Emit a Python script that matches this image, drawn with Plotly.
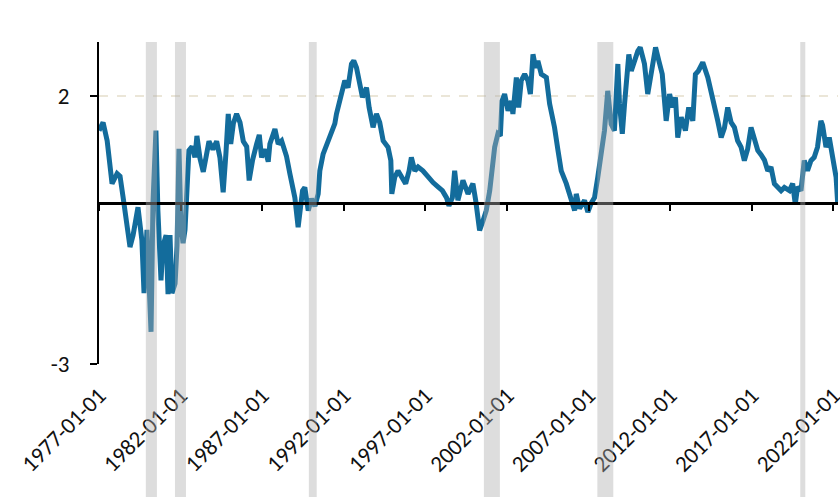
import plotly.graph_objects as go
import pandas as pd

# decimal-year positions and spread values
years = [1977.00,1977.25,1977.50,1977.68,1977.80,1978.11,1978.29,1978.48,1978.72,1978.90,
         1979.09,1979.39,1979.63,1979.76,1979.94,1980.07,1980.19,1980.31,1980.49,1980.61,
         1980.80,1980.92,1981.11,1981.23,1981.35,1981.47,1981.66,1981.78,1981.90,1982.02,
         1982.15,1982.27,1982.39,1982.51,1982.70,1982.88,1983.00,1983.19,1983.39,1983.62,
         1983.74,1983.98,1984.21,1984.41,1984.61,1984.78,1984.92,1985.07,1985.23,1985.43,
         1985.64,1985.84,1986.05,1986.20,1986.41,1986.66,1986.82,1986.96,1987.17,1987.37,
         1987.47,1987.78,1987.98,1988.19,1988.49,1988.70,1989.00,1989.20,1989.47,1989.61,
         1989.82,1990.02,1990.23,1990.43,1990.53,1990.73,1991.04,1991.25,1991.45,1991.55,
         1991.76,1991.86,1992.06,1992.26,1992.47,1992.61,1992.78,1992.94,1993.14,1993.39,
         1993.55,1993.79,1994.00,1994.20,1994.41,1994.71,1994.88,1994.94,1995.12,1995.32,
         1995.53,1995.79,1996.00,1996.14,1996.35,1996.55,1996.85,1997.16,1997.47,1997.77,
         1998.04,1998.29,1998.44,1998.65,1998.79,1998.99,1999.30,1999.61,1999.91,2000.08,
         2000.22,2000.32,2000.53,2000.73,2000.94,2001.10,2001.24,2001.44,2001.59,2001.69,
         2001.85,2002.06,2002.26,2002.36,2002.57,2002.71,2002.87,2003.08,2003.28,2003.43,
         2003.59,2003.75,2003.89,2004.10,2004.41,2004.61,2004.91,2005.12,2005.32,2005.63,
         2005.87,2006.03,2006.14,2006.24,2006.44,2006.75,2006.95,2007.16,2007.36,2007.56,
         2007.77,2007.97,2008.17,2008.38,2008.58,2008.79,2008.89,2009.06,2009.20,2009.34,
         2009.46,2009.61,2009.81,2010.01,2010.16,2010.42,2010.62,2010.83,2011.10,2011.30,
         2011.51,2011.75,2011.96,2012.16,2012.32,2012.46,2012.67,2012.93,2013.13,2013.38,
         2013.54,2013.72,2013.99,2014.30,2014.50,2014.71,2014.91,2015.12,2015.32,2015.52,
         2015.73,2015.93,2016.13,2016.34,2016.54,2016.74,2016.95,2017.15,2017.36,2017.56,
         2017.77,2017.97,2018.17,2018.38,2018.58,2018.79,2018.99,2019.30,2019.50,2019.66,
         2019.80,2020.01,2020.21,2020.41,2020.62,2020.82,2021.02,2021.23,2021.33,2021.54,
         2021.74,2021.95,2022.16,2022.26]
spread = [1.35,1.50,1.16,0.73,0.36,0.55,0.50,0.10,-0.38,-0.82,
          -0.60,-0.08,-0.70,-1.68,-0.50,-1.40,-2.40,0.00,1.35,-0.14,
          -1.44,-0.80,-0.60,-1.70,-0.60,-1.68,-1.50,-0.80,1.01,-0.40,
          -0.75,-0.50,0.23,0.98,1.05,0.85,1.25,0.83,0.58,0.92,
          1.15,1.00,1.15,0.85,0.20,0.93,1.66,1.10,1.48,1.66,
          1.50,1.15,1.05,0.42,0.80,1.10,1.27,0.85,1.00,0.77,
          1.10,1.38,1.10,1.16,0.87,0.54,0.10,-0.45,0.23,0.29,
          -0.14,0.08,-0.06,0.17,0.60,0.91,1.16,1.35,1.48,1.66,
          1.90,1.97,2.28,2.15,2.59,2.65,2.52,2.28,1.97,2.15,
          1.78,1.41,1.66,1.50,1.16,1.04,0.79,0.17,0.48,0.60,
          0.48,0.36,0.60,0.85,0.60,0.67,0.60,0.48,0.38,0.30,
          0.23,0.10,-0.05,0.10,0.60,0.05,0.42,0.17,0.36,0.05,
          -0.20,-0.51,-0.33,-0.14,0.23,0.60,1.04,1.29,1.25,1.90,
          2.03,1.72,1.90,1.66,2.34,1.78,2.28,2.40,2.28,2.03,
          2.77,2.52,2.65,2.40,2.34,1.85,1.41,0.98,0.60,0.36,
          0.10,-0.08,-0.14,0.17,-0.10,0.05,-0.17,0.00,0.10,0.48,
          0.98,1.35,2.09,1.47,1.35,2.59,1.85,1.29,1.85,2.28,
          2.77,2.46,2.65,2.83,2.90,2.59,2.03,2.46,2.90,2.65,
          2.40,1.53,2.03,1.78,1.97,1.22,1.60,1.35,1.78,1.53,
          2.40,2.46,2.62,2.34,2.10,1.85,1.53,1.22,1.40,1.78,
          1.50,1.41,1.16,1.04,0.79,1.00,1.41,1.20,0.98,0.90,
          0.80,0.60,0.67,0.36,0.30,0.23,0.29,0.23,0.36,-0.02,
          0.30,0.23,0.79,0.60,0.79,0.85,1.04,1.53,1.45,1.04,
          1.22,0.85,0.48,-0.02]

rec_start = ["1979-11-15", "1981-08-28", "1989-11-10", "2000-08-01", "2007-07-15", "2019-12-20"]
rec_end   = ["1980-07-20", "1982-05-01", "1990-05-05", "2001-07-25", "2008-07-05", "2020-04-10"]

tick_vals = ["1977-01-01", "1982-01-01", "1987-01-01", "1992-01-01", "1997-01-01",
             "2002-01-01", "2007-01-01", "2012-01-01", "2017-01-01", "2022-01-01"]
y_tick_vals = [-3, 2]
y_tick_text = ["-3", "2"]


def to_date(y):
    yr = int(y)
    return pd.Timestamp(f"{yr}-01-01") + pd.Timedelta(days=(y - yr) * 365.25)


dates = [to_date(y) for y in years]
Y_MIN, Y_MAX = -3, 3
X_RANGE = ["1977-01-01", "2022-04-12"]
FONT = "Carlito, Lato, 'Open Sans', sans-serif"

fig = go.Figure()
fig.add_trace(go.Scatter(x=dates, y=spread, mode="lines",
                         line=dict(color="#136c9c", width=5), showlegend=False,
                         hoverinfo="skip"))
# invisible trace on the axis that carries ticks along the zero line
fig.add_trace(go.Scatter(x=[dates[0]], y=[0], xaxis="x2", mode="lines",
                         line=dict(width=0), showlegend=False, hoverinfo="skip"))

for s, e in zip(rec_start, rec_end):
    fig.add_shape(type="rect", xref="x", yref="paper", x0=s, x1=e, y0=-0.5, y1=1.0,
                  fillcolor="rgba(175,175,175,0.42)", line=dict(width=0), layer="above")

fig.update_layout(
    width=840, height=497,
    margin=dict(l=99, r=2, t=42, b=133),
    paper_bgcolor="white", plot_bgcolor="white",
    font=dict(family=FONT, size=23, color="#111111"),
    xaxis=dict(range=X_RANGE, tickmode="array", tickvals=tick_vals,
               ticktext=tick_vals, tickangle=-45, showgrid=False, showline=False,
               zeroline=False, ticks="outside", ticklen=8, tickcolor="rgba(0,0,0,0)",
               automargin=False, ticklabeloverflow="allow",
               tickfont=dict(family=FONT, size=23, color="#111111")),
    xaxis2=dict(range=X_RANGE, matches="x", overlaying="x", anchor="free",
                position=(0 - Y_MIN) / (Y_MAX - Y_MIN), tickmode="array",
                tickvals=tick_vals, showticklabels=False, ticks="outside", ticklen=6,
                tickwidth=2, tickcolor="black", showline=True, linecolor="black",
                linewidth=3, showgrid=False, zeroline=False, automargin=False),
    yaxis=dict(range=[Y_MIN, Y_MAX], tickmode="array", tickvals=y_tick_vals,
               ticktext=y_tick_text, showgrid=True,
               gridcolor="#ebe6d8", griddash="dash", gridwidth=1.5,
               showline=True, linecolor="black", linewidth=2, ticks="outside",
               ticklen=7, tickwidth=2, tickcolor="black", zeroline=False,
               automargin=False, ticklabelstandoff=16,
               tickfont=dict(family=FONT, size=23, color="#111111")),
)

# remove the page's default body margin so the 840x497 figure fills the window
page_js = ("document.documentElement.style.overflow='hidden';"
           "document.body.style.margin='0';document.body.style.overflow='hidden';")
fig.write_html("out.html", post_script=page_js, config={"displayModeBar": False})
